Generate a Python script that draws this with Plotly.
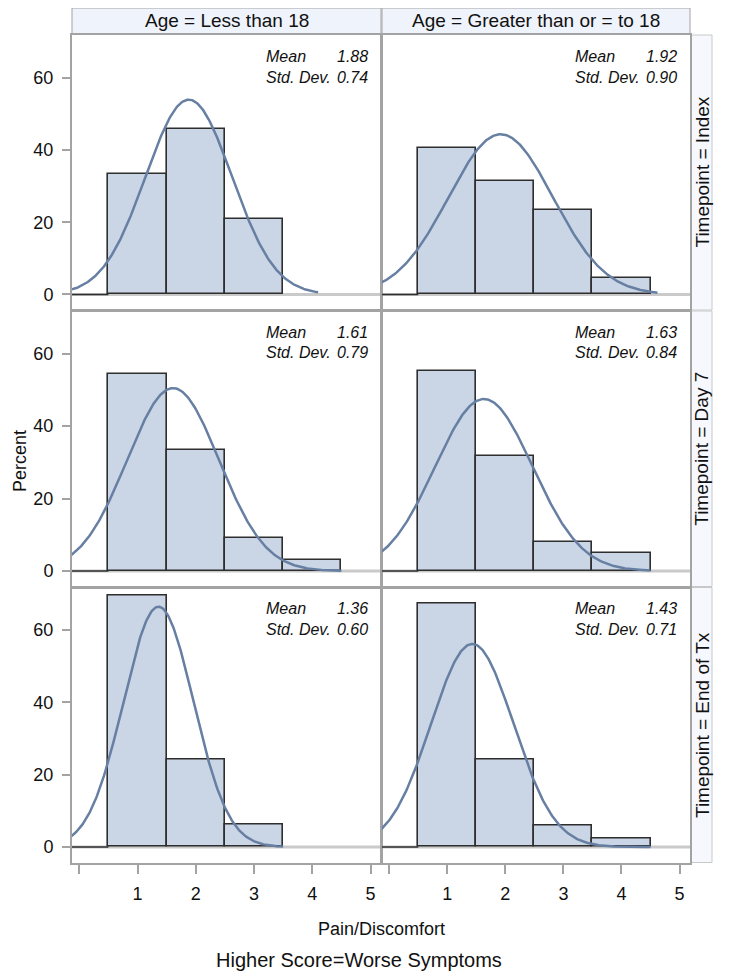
import numpy as np
import plotly.graph_objects as go

# ---------------- data ----------------
bins = [0, 1, 2, 3, 4]
age_groups = ["Less than 18", "Greater than or = to 18"]
timepoints = ["Index", "Day 7", "End of Tx"]

pct_lt18_index = [0, 33.3, 45.8, 20.8, None]
pct_ge18_index = [0, 40.5, 31.5, 23.5, 4.5]
pct_lt18_day7 = [0, 54.5, 33.3, 9.1, 3.0]
pct_ge18_day7 = [0, 55.3, 31.7, 8.0, 5.0]
pct_lt18_end = [0, 69.7, 24.2, 6.1, None]
pct_ge18_end = [0, 67.5, 24.3, 5.9, 2.3]

mean_lt18 = [1.88, 1.61, 1.36]
mean_ge18 = [1.92, 1.63, 1.43]
sd_lt18 = [0.74, 0.79, 0.60]
sd_ge18 = [0.90, 0.84, 0.71]

y_ticks = [0, 20, 40, 60]
x_ticks = [0, 1, 2, 3, 4, 5]
x_ticklabels = ["", "1", "2", "3", "4", "5"]

pct = [[pct_lt18_index, pct_ge18_index],
       [pct_lt18_day7, pct_ge18_day7],
       [pct_lt18_end, pct_ge18_end]]
means = [[mean_lt18[i], mean_ge18[i]] for i in range(3)]
sds = [[sd_lt18[i], sd_ge18[i]] for i in range(3)]

# ---------------- style / layout ----------------
W, H = 716, 963          # page body has an 8px margin
OFF = 8
FONT = "Liberation Sans, Arial, sans-serif"
BAR_FILL = "#CAD5E5"
BAR_LINE = "#2E2E2E"
FIT = "#667FA2"
BORDER = "#A3A3A3"
TXT = "#111111"

col_px = [(72, 381), (382, 690)]
row_px = [(35, 310), (311, 586.5), (587.5, 862.5)]
X_RANGE = [-0.125, 5.18]
Y_RANGE = [-4.3, 71.8]


def fx(x):
    return (x - OFF) / W


def fy(y):
    return 1 - (y - OFF) / H


fig = go.Figure()
shapes = []
annotations = []

n = 0
for r in range(3):
    for c in range(2):
        n += 1
        xa = "x" if n == 1 else f"x{n}"
        ya = "y" if n == 1 else f"y{n}"
        vals = pct[r][c]
        mu, sd = means[r][c], sds[r][c]

        # zero reference line
        shapes.append(dict(type="line", xref=f"{xa} domain", yref=ya,
                           x0=0, x1=1, y0=0, y1=0, layer="below",
                           line=dict(color="#CACACA", width=3)))

        bx = [b for b, v in zip(bins, vals) if v is not None and v > 0]
        by = [v for v in vals if v is not None and v > 0]
        fig.add_trace(go.Bar(x=bx, y=by, width=1, xaxis=xa, yaxis=ya,
                             marker=dict(color=BAR_FILL,
                                         line=dict(color=BAR_LINE, width=1.6)),
                             showlegend=False, hoverinfo="skip"))
        # empty bins show as outline along zero
        for b, v in zip(bins, vals):
            if v == 0:
                fig.add_trace(go.Scatter(x=[b - 0.5, b + 0.5], y=[0, 0],
                                         mode="lines", xaxis=xa, yaxis=ya,
                                         line=dict(color=BAR_LINE, width=1.6),
                                         showlegend=False, hoverinfo="skip"))
        present = [b for b, v in zip(bins, vals) if v is not None]
        lo = min(mu - 3 * sd, present[0] - 0.5)
        hi = max(mu + 3 * sd, present[-1] + 0.5)
        xs = np.linspace(lo, hi, 300)
        ys = 100 * np.exp(-0.5 * ((xs - mu) / sd) ** 2) / (sd * np.sqrt(2 * np.pi))
        fig.add_trace(go.Scatter(x=xs, y=ys, mode="lines", xaxis=xa, yaxis=ya,
                                 line=dict(color=FIT, width=2.5),
                                 showlegend=False, hoverinfo="skip"))

        x0p, x1p = col_px[c]
        y0p, y1p = row_px[r]
        xaxis = dict(domain=[fx(x0p), fx(x1p)], anchor=ya, range=X_RANGE,
                     showgrid=False, zeroline=False, showline=True, mirror=True,
                     linecolor=BORDER, linewidth=2, fixedrange=True)
        if r == 2:
            xaxis.update(tickmode="array", tickvals=x_ticks, ticktext=x_ticklabels,
                         ticks="outside", ticklen=9, tickwidth=1.5, tickcolor=BORDER,
                         ticklabelstandoff=5,
                         tickfont=dict(family=FONT, size=18, color=TXT))
        else:
            xaxis.update(showticklabels=False, ticks="")
        yaxis = dict(domain=[fy(y1p), fy(y0p)], anchor=xa, range=Y_RANGE,
                     showgrid=False, zeroline=False, showline=True, mirror=True,
                     linecolor=BORDER, linewidth=2, fixedrange=True)
        if c == 0:
            yaxis.update(tickmode="array", tickvals=y_ticks, ticks="outside",
                         ticklen=8, tickwidth=1.5, tickcolor=BORDER,
                         ticklabelstandoff=5,
                         tickfont=dict(family=FONT, size=18, color=TXT))
        else:
            yaxis.update(showticklabels=False, ticks="")
        fig.update_layout({("xaxis" if n == 1 else f"xaxis{n}"): xaxis,
                           ("yaxis" if n == 1 else f"yaxis{n}"): yaxis})

        # stats inset
        sfont = dict(family=FONT, size=16, color=TXT)
        annotations.append(dict(xref="paper", yref="paper", x=fx(x1p - 117), y=fy(y0p + 21),
                                xanchor="left", yanchor="middle", showarrow=False,
                                text="<i>Mean</i>", font=sfont))
        annotations.append(dict(xref="paper", yref="paper", x=fx(x1p - 11), y=fy(y0p + 21),
                                xanchor="right", yanchor="middle", showarrow=False,
                                text=f"<i>{mu:.2f}</i>", font=sfont))
        annotations.append(dict(xref="paper", yref="paper", x=fx(x1p - 117), y=fy(y0p + 42),
                                xanchor="left", yanchor="middle", showarrow=False,
                                text="<i>Std. Dev.</i>", font=sfont))
        annotations.append(dict(xref="paper", yref="paper", x=fx(x1p - 11), y=fy(y0p + 42),
                                xanchor="right", yanchor="middle", showarrow=False,
                                text=f"<i>{sd:.2f}</i>", font=sfont))

# column headers
for c in range(2):
    x0p, x1p = col_px[c]
    shapes.append(dict(type="rect", xref="paper", yref="paper",
                       x0=fx(x0p), x1=fx(x1p), y0=fy(34), y1=fy(8),
                       fillcolor="#EFF3FB", line=dict(color=BORDER, width=1), layer="below"))
    annotations.append(dict(xref="paper", yref="paper", x=fx((x0p + x1p) / 2), y=fy(21),
                            xanchor="center", yanchor="middle", showarrow=False,
                            text=f"Age = {age_groups[c]}",
                            font=dict(family=FONT, size=19, color=TXT)))
# row headers
for r in range(3):
    y0p, y1p = row_px[r]
    shapes.append(dict(type="rect", xref="paper", yref="paper",
                       x0=fx(691), x1=fx(712), y0=fy(y1p), y1=fy(y0p),
                       fillcolor="#F6F8FD", line=dict(color="#C8C8C8", width=1), layer="below"))
    annotations.append(dict(xref="paper", yref="paper", x=fx(702), y=fy((y0p + y1p) / 2),
                            xanchor="center", yanchor="middle", showarrow=False, textangle=-90,
                            text=f"Timepoint = {timepoints[r]}",
                            font=dict(family=FONT, size=19, color=TXT)))

# axis titles / footnote
annotations.append(dict(xref="paper", yref="paper", x=0, y=fy(461),
                        xanchor="left", yanchor="middle", showarrow=False, textangle=-90,
                        text="Percent", font=dict(family=FONT, size=18, color=TXT)))
annotations.append(dict(xref="paper", yref="paper", x=fx(381), y=fy(929),
                        xanchor="center", yanchor="middle", showarrow=False,
                        text="Pain/Discomfort", font=dict(family=FONT, size=18, color=TXT)))
annotations.append(dict(xref="paper", yref="paper", x=fx(359), y=fy(960),
                        xanchor="center", yanchor="middle", showarrow=False,
                        text="Higher Score=Worse Symptoms", font=dict(family=FONT, size=20, color=TXT)))

fig.update_layout(width=W, height=H, autosize=False,
                  margin=dict(l=0, r=0, t=0, b=0),
                  paper_bgcolor="white", plot_bgcolor="white",
                  bargap=0, barmode="overlay",
                  shapes=shapes, annotations=annotations)

fig.write_html("out.html")
